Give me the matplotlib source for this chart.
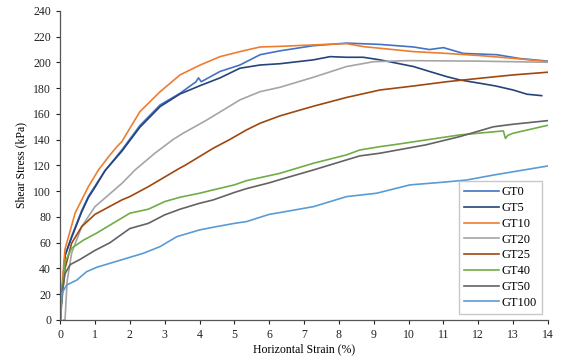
import matplotlib.pyplot as plt

plt.rcParams['font.family'] = ['Liberation Serif', 'DejaVu Serif']

# данные: деформация (%) и сдвиговое напряжение (кПа)
gt0_x = [0, 0.05, 0.14, 0.33, 0.62, 0.81, 1.0, 1.29, 1.77, 2.29, 2.87, 3.44, 3.9, 3.97, 4.05,
         4.59, 5.16, 5.74, 6.31, 7.27, 8.22, 9.18, 10.14, 10.6, 11.0, 11.57, 12.53, 13.2, 14.0]
gt0_y = [0, 20, 50, 65, 85, 96, 104, 116, 132, 151, 167, 176, 185, 188, 185,
         193, 198, 206, 209, 213, 215, 214, 212, 210, 211.5, 207, 206, 203, 201]

gt5_x = [0, 0.05, 0.14, 0.33, 0.62, 0.81, 1.0, 1.29, 1.77, 2.29, 2.87, 3.44, 4.02, 4.59, 5.16,
         5.74, 6.31, 7.27, 7.75, 8.22, 8.7, 9.18, 9.66, 10.14, 10.6, 11.09, 11.47, 12.05, 12.5,
         13.0, 13.4, 13.82]
gt5_y = [0, 20, 50, 64, 84, 95, 103, 116, 131, 149.7, 165.7, 175.5, 182, 188, 195.5,
         198, 199, 202, 204.5, 204, 204, 202, 199.4, 196.8, 193, 189, 186.4, 183.8, 181.7,
         178.6, 175.3, 174.2]

gt10_x = [0, 0.05, 0.14, 0.43, 0.81, 1.1, 1.39, 1.63, 1.77, 2.29, 2.87, 3.44, 4.02, 4.59, 5.16,
          5.74, 6.31, 7.27, 8.22, 8.7, 9.18, 10.14, 11.09, 12.05, 13.0, 14.0]
gt10_y = [0, 25, 55, 83, 103.5, 116.5, 126.8, 134.6, 138.5, 161.8, 177.3, 190.3, 198, 204.5, 208.4,
          212, 212.5, 213.6, 214.6, 212.3, 211, 208.4, 207, 205.3, 203.2, 200.6]

gt20_x = [0.1, 0.14, 0.2, 0.33, 0.62, 1.0, 1.77, 2.15, 2.72, 3.25, 3.53, 4.21, 5.16, 5.74, 6.31,
          7.27, 8.22, 9.0, 10.0, 12.0, 14.0]
gt20_y = [0, 0, 30, 52, 72.5, 88, 106, 116.5, 129.5, 140.3, 145, 155.3, 170.9, 177.3, 180.7,
          188.5, 196.8, 200.6, 201.4, 201, 200.1]

gt25_x = [0, 0.05, 0.14, 0.33, 0.62, 1.0, 1.77, 2.0, 2.53, 3.44, 3.58, 4.39, 4.88, 5.35, 5.74,
          6.31, 7.27, 8.22, 9.18, 10.14, 11.09, 12.05, 13.0, 14.0]
gt25_y = [0, 15, 40, 59.6, 72.5, 82, 93.2, 95.8, 103.5, 118, 120, 133.3, 140.3, 147.6, 152.8,
          158.5, 166, 172.8, 178.6, 181.7, 185, 187.7, 190.3, 192.4]

gt40_x = [0, 0.05, 0.14, 0.33, 0.67, 1.05, 2.0, 2.53, 3.0, 3.44, 4.0, 4.39, 5.0, 5.35, 6.31,
          7.27, 8.22, 8.6, 9.18, 9.56, 10.5, 11.47, 12.72, 12.78, 12.85, 13.0, 14.0]
gt40_y = [0, 20, 45, 55.7, 62, 67.5, 82.9, 86, 91.9, 95.3, 98.4, 101, 104.9, 108.2, 113.9,
          121.7, 128.2, 132, 134.6, 136, 139.8, 143.7, 146.8, 141, 143.4, 145, 151.2]

gt50_x = [0, 0.05, 0.14, 0.29, 0.57, 1.0, 1.43, 2.0, 2.53, 3.0, 3.44, 4.0, 4.39, 5.0, 5.35,
          6.0, 6.31, 7.27, 8.22, 8.6, 9.18, 10.5, 11.47, 12.43, 13.0, 14.0]
gt50_y = [0, 20, 36, 43, 47, 54, 60, 71, 75, 81.6, 86, 90.6, 93.2, 99, 102,
          106.5, 109, 116.5, 124.3, 127.4, 129.5, 136, 142.4, 150, 152, 154.8]

gt100_x = [0.02, 0.05, 0.19, 0.48, 0.76, 1.05, 1.43, 1.91, 2.39, 2.87, 3.35, 4.0, 4.39, 5.0,
           5.35, 6.0, 6.31, 7.27, 8.22, 9.08, 10.04, 11.0, 11.67, 12.43, 13.2, 14.0]
gt100_y = [0, 20.7, 27.2, 31, 37.5, 40.9, 44, 47.9, 51.8, 57, 64.7, 69.9, 72, 75,
           76.4, 82, 83.4, 88, 95.8, 98.4, 104.9, 107, 108.7, 112.5, 116, 119.6]

labels = ['GT0', 'GT5', 'GT10', 'GT20', 'GT25', 'GT40', 'GT50', 'GT100']
colors = ['#4472C4', '#264478', '#ED7D31', '#A5A5A5', '#9E480E', '#70AD47', '#636363', '#5B9BD5']
series = [(gt0_x, gt0_y), (gt5_x, gt5_y), (gt10_x, gt10_y), (gt20_x, gt20_y),
          (gt25_x, gt25_y), (gt40_x, gt40_y), (gt50_x, gt50_y), (gt100_x, gt100_y)]

fig = plt.figure(figsize=(5.62, 3.64), dpi=100)
ax = fig.add_axes([0.107, 0.121, 0.868, 0.849])

for (xs, ys), lab, col in zip(series, labels, colors):
    ax.plot(xs, ys, color=col, lw=1.2, label=lab)

ax.set_xlim(0, 14)
ax.set_ylim(0, 240)
ax.set_xticks(range(0, 15))
ax.set_yticks(range(0, 241, 20))
ax.tick_params(direction='out', length=3, width=0.8, labelsize=8.5, colors='#222222')
ax.spines['top'].set_visible(False)
ax.spines['right'].set_visible(False)
for s in ['left', 'bottom']:
    ax.spines[s].set_color('#555555')
    ax.spines[s].set_linewidth(0.9)

ax.set_xlabel('Horizontal Strain (%)', fontsize=8.5, labelpad=2)
ax.set_ylabel('Shear Stress (kPa)', fontsize=8.5, labelpad=4)

# легенда в правом нижнем углу, серая рамка
leg = ax.legend(loc='lower right', fontsize=9, frameon=True, fancybox=False,
                handlelength=2.8, handletextpad=0.2, labelspacing=0.3,
                borderpad=0.4, borderaxespad=0.5)
leg.get_frame().set_edgecolor('#BBBBBB')
leg.get_frame().set_linewidth(1.0)

fig.savefig('out.png', dpi=100)
